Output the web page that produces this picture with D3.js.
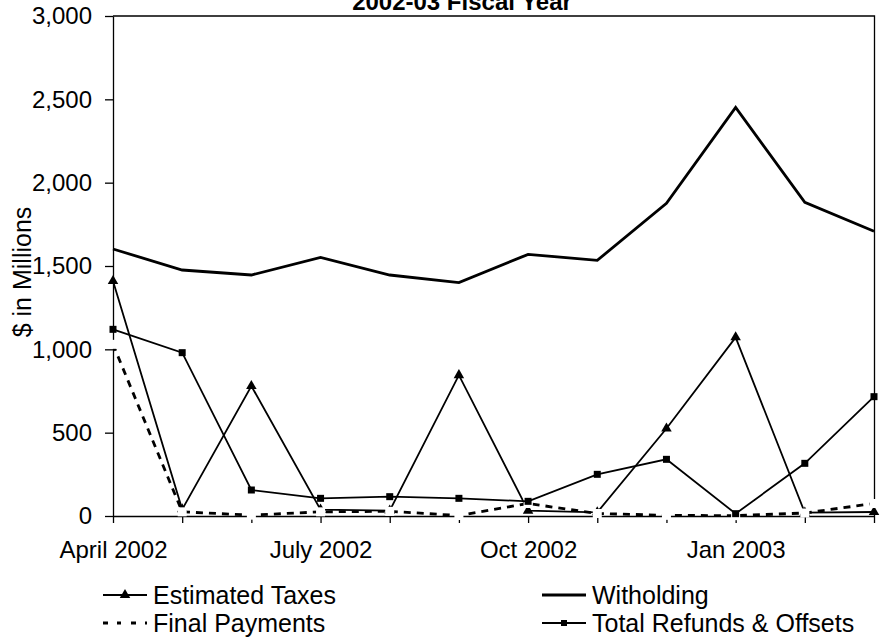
<!DOCTYPE html>
<html>
<head>
<meta charset="utf-8">
<script src="https://cdn.jsdelivr.net/npm/d3@7"></script>
<style>
  html, body { margin: 0; padding: 0; background: #fff; }
  svg { display: block; font-family: "Liberation Sans", Arial, sans-serif; }
</style>
</head>
<body>
<svg id="chart" width="880" height="641"></svg>
<script>
// Monthly collections, fiscal year April 2002 – March 2003 ($ millions)
const months = ["April 2002", "May 2002", "June 2002", "July 2002", "Aug 2002", "Sept 2002",
                "Oct 2002", "Nov 2002", "Dec 2002", "Jan 2003", "Feb 2003", "Mar 2003"];
const labeledMonths = ["April 2002", "July 2002", "Oct 2002", "Jan 2003"];
const yTicks = [0, 500, 1000, 1500, 2000, 2500, 3000];

const estimatedTaxes = [1410, 40, 780, 38, 32, 845, 32, 22, 525, 1072, 20, 24];
const witholding     = [1602, 1476, 1446, 1552, 1446, 1400, 1570, 1534, 1876, 2452, 1882, 1708];
const finalPayments  = [1030, 25, 5, 25, 28, 3, 75, 15, 4, 2, 18, 75];
const totalRefunds   = [1120, 980, 156, 106, 116, 106, 88, 250, 340, 14, 316, 716];

const seriesNames = ["Estimated Taxes", "Witholding", "Final Payments", "Total Refunds & Offsets"];

const svg = d3.select("#chart");
const plotLeft = 113, plotRight = 874, plotTop = 16, plotBottom = 516;
const FONT = 24;
const LEGEND_FONT = 25;

const x = d3.scalePoint().domain(months).range([plotLeft, plotRight]).padding(0);
const y = d3.scaleLinear().domain([0, 3000]).range([plotBottom, plotTop]);

// Plot frame (top and right edges)
svg.append("path")
  .attr("d", `M${plotLeft},${plotTop}H${plotRight + 0.5}V${plotBottom}`)
  .attr("fill", "none").attr("stroke", "#000").attr("stroke-width", 1.3);

// Y axis
const yAxis = svg.append("g")
  .attr("transform", `translate(${plotLeft},0)`)
  .call(d3.axisLeft(y).tickValues(yTicks).tickFormat(d3.format(",")).tickSize(8).tickSizeOuter(0).tickPadding(13));
yAxis.selectAll("text").attr("font-size", FONT).attr("font-family", "Liberation Sans, Arial").attr("fill", "#000");
yAxis.selectAll("line,path").attr("stroke", "#000").attr("stroke-width", 1.3);

// X axis
const xAxis = svg.append("g")
  .attr("transform", `translate(0,${plotBottom})`)
  .call(d3.axisBottom(x).tickFormat(d => labeledMonths.includes(d) ? d : "").tickSize(7).tickSizeOuter(0).tickPadding(18));
xAxis.selectAll("text").attr("font-size", FONT).attr("font-family", "Liberation Sans, Arial").attr("fill", "#000");
xAxis.selectAll("line,path").attr("stroke", "#000").attr("stroke-width", 1.3);

// Titles
svg.append("text")
  .attr("x", 462).attr("y", 10)
  .attr("text-anchor", "middle")
  .attr("font-size", FONT).attr("font-weight", "bold")
  .text("2002-03 Fiscal Year");

svg.append("text")
  .attr("transform", `translate(31,272) rotate(-90)`)
  .attr("text-anchor", "middle")
  .attr("font-size", LEGEND_FONT)
  .text("$ in Millions");

const line = d3.line().x((d, i) => x(months[i])).y(d => y(d));
const tri = d3.symbol().type(d3.symbolTriangle).size(48);

function drawSeries(values, style) {
  const g = svg.append("g");
  g.append("path").datum(values)
    .attr("d", line)
    .attr("fill", "none")
    .attr("stroke", "#000")
    .attr("stroke-width", style.width)
    .attr("stroke-dasharray", style.dash || null)
    .attr("stroke-linejoin", "miter");
  if (style.marker === "triangle") {
    g.selectAll("path.m").data(values).join("path").attr("class", "m")
      .attr("d", tri)
      .attr("transform", (d, i) => `translate(${x(months[i])},${y(d)})`)
      .attr("fill", "#000");
  } else if (style.marker === "square" || style.marker === "white") {
    const s = style.size;
    g.selectAll("rect").data(values).join("rect")
      .attr("x", (d, i) => x(months[i]) - s / 2)
      .attr("y", d => y(d) - s / 2)
      .attr("width", s).attr("height", s)
      .attr("fill", style.marker === "white" ? "#fff" : "#000");
  }
}

const styles = [
  { width: 1.8, marker: "triangle" },
  { width: 2.8 },
  { width: 2.8, dash: "7,6", marker: "white", size: 9 },
  { width: 1.8, marker: "square", size: 7 }
];
[estimatedTaxes, witholding, finalPayments, totalRefunds].forEach((v, i) => drawSeries(v, styles[i]));

// Legend, two columns
const legendPos = [
  { x: 103, y: 595 }, { x: 542, y: 595 },
  { x: 103, y: 623 }, { x: 542, y: 623 }
];
seriesNames.forEach((name, i) => {
  const p = legendPos[i], st = styles[i];
  const g = svg.append("g").attr("transform", `translate(${p.x},${p.y})`);
  g.append("line").attr("x1", 0).attr("x2", 44).attr("y1", 0).attr("y2", 0)
    .attr("stroke", "#000").attr("stroke-width", st.width)
    .attr("stroke-dasharray", st.dash ? "5,9" : null);
  if (st.marker === "triangle") {
    g.append("path").attr("d", tri).attr("transform", "translate(22,0)").attr("fill", "#000");
  } else if (st.marker === "square") {
    g.append("rect").attr("x", 19).attr("y", -3).attr("width", 6).attr("height", 6).attr("fill", "#000");
  } else if (st.marker === "white") {
    g.append("rect").attr("x", 18).attr("y", -4.5).attr("width", 9).attr("height", 9).attr("fill", "#fff");
  }
  g.append("text").attr("x", 50).attr("y", 0).attr("dy", "0.35em")
    .attr("font-size", LEGEND_FONT).text(name);
});
</script>
</body>
</html>
